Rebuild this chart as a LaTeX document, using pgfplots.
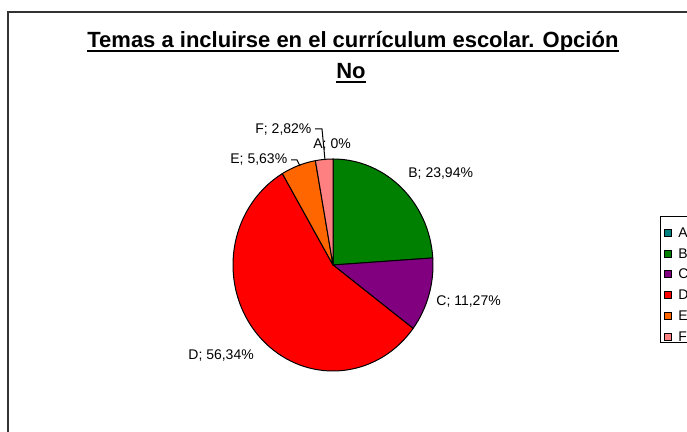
\documentclass[border=0pt]{standalone}
\usepackage{fontspec}
\setmainfont{Liberation Sans}
\usepackage{pgfplots}
\pgfplotsset{compat=1.18}

\definecolor{pieA}{HTML}{008080}
\definecolor{pieB}{HTML}{008000}
\definecolor{pieC}{HTML}{800080}
\definecolor{pieD}{HTML}{FF0000}
\definecolor{pieE}{HTML}{FF6600}
\definecolor{pieF}{HTML}{FF8080}

% slice from cumulative percent #1 to #2, clockwise from the top
\newcommand\slice[3]{%
  \filldraw[fill=#3,draw=black,line width=0.5pt,line join=round]
    (axis cs:333,167) -- ++({90-3.6*#1}:50pt and 53pt)
    arc[start angle={90-3.6*#1},end angle={90-3.6*#2},x radius=50pt,y radius=53pt] -- cycle;}
\newcommand\legitem[3]{%
  \filldraw[fill=#2,draw=black,line width=0.4pt] (axis cs:664,#1-3.5) rectangle (axis cs:671,#1+3.5);
  \node[anchor=west,inner sep=0,font=\fontsize{7}{8}\selectfont] at (axis cs:678,#1) {#3};}

\begin{document}
\begin{tikzpicture}
\begin{axis}[name=ax,scale only axis,width=343.5pt,height=216pt,
  xmin=0,xmax=687,ymin=0,ymax=432,hide axis,clip=false]
\fill[white] (axis cs:0,0) rectangle (axis cs:687,432);
% chart area frame (runs past the right and bottom edges)
\draw[black!80,line width=1pt] (axis cs:8,-30) -- (axis cs:8,420) -- (axis cs:720,420);

% title
\node[anchor=base west,inner sep=0,font=\fontsize{11}{13}\selectfont\bfseries] (t1)
  at (axis cs:87,384) {Temas a incluirse en el currículum escolar. Opción\ };
\draw[line width=1pt] ([yshift=-1.6pt]t1.base west) -- ([yshift=-1.6pt]t1.base east);
\node[anchor=base,inner sep=0,font=\fontsize{11}{13}\selectfont\bfseries] (t2)
  at (axis cs:351,353) {No};
\draw[line width=1pt] ([yshift=-1.6pt]t2.base west) -- ([yshift=-1.6pt]t2.base east);

% pie: A 0, B 23.94, C 11.27, D 56.34, E 5.63, F 2.82
\slice{0}{23.94}{pieB}
\slice{23.94}{35.21}{pieC}
\slice{35.21}{91.55}{pieD}
\slice{91.55}{97.18}{pieE}
\slice{97.18}{100}{pieF}

% data labels
\begin{scope}[every node/.style={inner sep=0,font=\fontsize{7}{8}\selectfont}]
\node[anchor=west] at (axis cs:408,258) {B; 23,94\%};
\node[anchor=west] at (axis cs:436,130) {C; 11,27\%};
\node[anchor=west] at (axis cs:188,76.5) {D; 56,34\%};
\node[anchor=west] at (axis cs:230,272) {E; 5,63\%};
\node[anchor=west] at (axis cs:255,302) {F; 2,82\%};
\node[anchor=west] at (axis cs:313,287) {A; 0\%};
\end{scope}
\draw[line width=0.5pt] (axis cs:291,272) -- (axis cs:297,272) -- (axis cs:300,266);
\draw[line width=0.5pt] (axis cs:315,303) -- (axis cs:322,303) -- (axis cs:325,272);

% legend
\draw[black,line width=0.5pt] (axis cs:660,215) rectangle (axis cs:720,89);
\legitem{199}{pieA}{A}
\legitem{178}{pieB}{B}
\legitem{158}{pieC}{C}
\legitem{137}{pieD}{D}
\legitem{116}{pieE}{E}
\legitem{95}{pieF}{F}
\end{axis}
\pgfresetboundingbox
\path (ax.south west) rectangle (ax.north east);
\end{tikzpicture}
\end{document}
